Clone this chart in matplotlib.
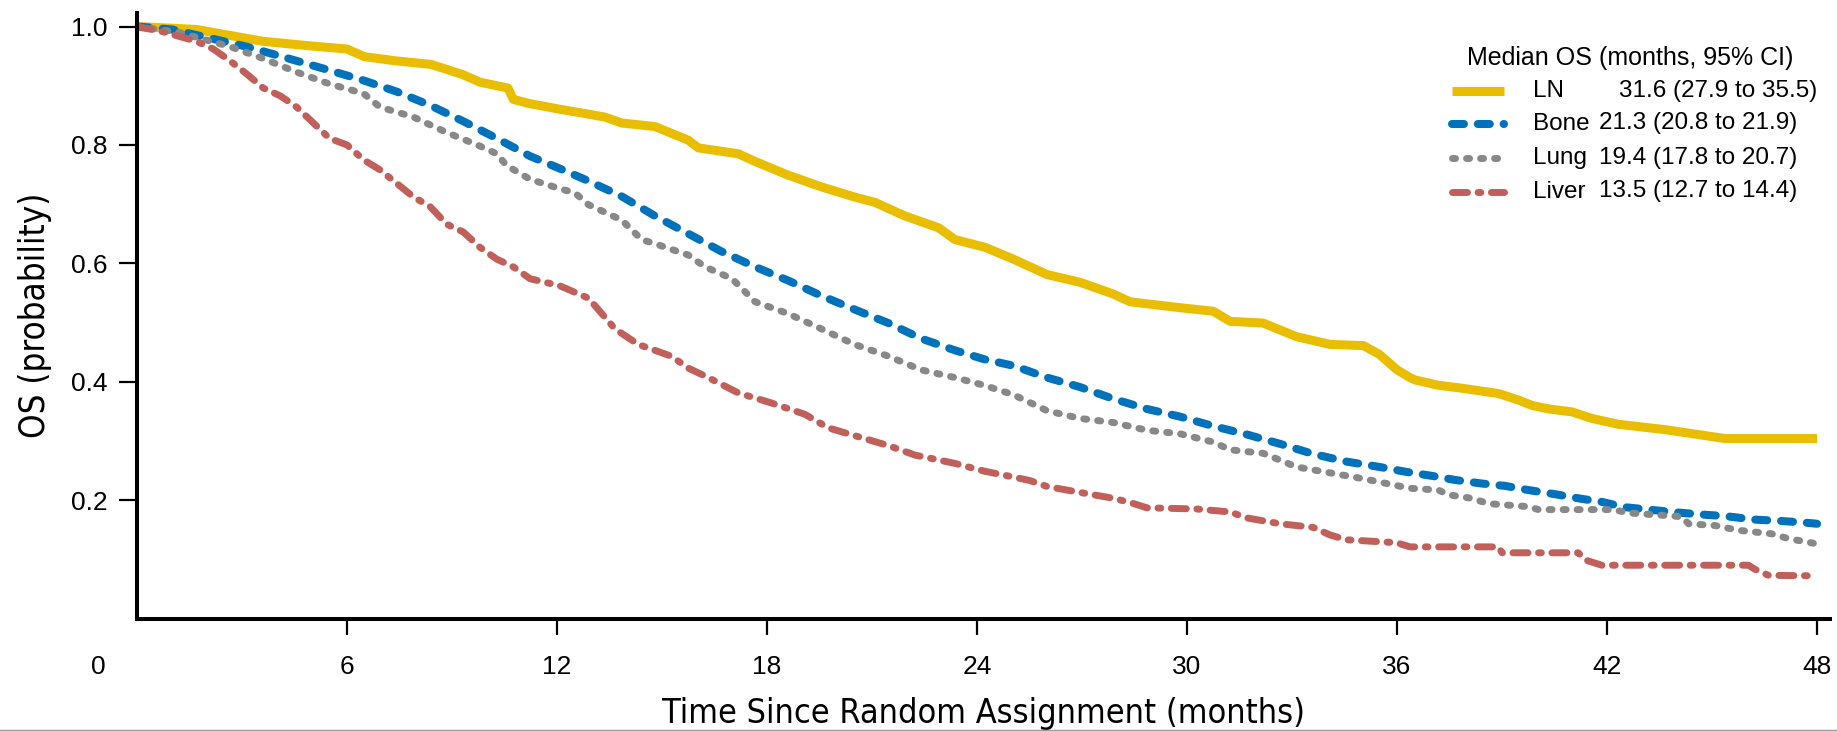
import matplotlib
matplotlib.use("Agg")
import matplotlib.pyplot as plt
from matplotlib.lines import Line2D
from matplotlib import font_manager as fm

# ---- Kaplan-Meier overall survival by metastatic site ----
months_ln = [0, 1.7, 3.6, 5.0, 6.0, 6.5, 7.4, 8.4, 9.3, 9.8, 10.6, 10.75, 11.2, 12.1, 12.7,
             13.37, 13.85, 14.8, 15.75, 16.04, 17.18, 17.66, 18.6, 19.56, 20.5, 21.08, 21.94,
             22.9, 23.37, 24.23, 25.04, 26.0, 26.94, 27.9, 28.37, 29.8, 30.75, 31.23, 32.18,
             33.13, 34.09, 35.04, 35.5, 36.0, 36.37, 36.51, 37.18, 37.85, 38.9, 39.47, 39.85,
             40.33, 41.0, 41.56, 42.33, 43.66, 45.37, 48.0]
os_ln = [1.0, 0.995, 0.975, 0.967, 0.962, 0.949, 0.942, 0.936, 0.919, 0.906, 0.896, 0.877, 0.870,
         0.860, 0.854, 0.847, 0.837, 0.831, 0.808, 0.795, 0.785, 0.772, 0.749, 0.729, 0.712,
         0.703, 0.680, 0.660, 0.640, 0.627, 0.607, 0.581, 0.568, 0.548, 0.535, 0.525, 0.519,
         0.502, 0.499, 0.476, 0.463, 0.461, 0.446, 0.420, 0.407, 0.403, 0.394, 0.389, 0.380,
         0.369, 0.360, 0.354, 0.349, 0.338, 0.328, 0.319, 0.304, 0.304]

months_bone = [0, 1.0, 2.18, 3.13, 4.09, 5.5, 6.47, 7.42, 8.37, 9.32, 10.28, 11.23, 12.08, 12.9,
               13.85, 14.8, 15.75, 16.7, 17.66, 18.6, 19.56, 20.5, 21.47, 22.4, 23.37, 24.2,
               25.04, 26.0, 26.94, 27.9, 28.85, 29.8, 30.75, 31.7, 32.66, 33.6, 34.56, 35.5,
               36.23, 36.99, 37.66, 38.42, 39.09, 39.75, 40.51, 41.18, 41.85, 42.51, 43.85,
               44.61, 45.37, 46.23, 46.9, 47.66, 48.0]
os_bone = [1.0, 0.995, 0.979, 0.966, 0.950, 0.926, 0.909, 0.890, 0.867, 0.840, 0.811, 0.781,
           0.760, 0.739, 0.713, 0.680, 0.650, 0.620, 0.594, 0.571, 0.545, 0.522, 0.499, 0.473,
           0.453, 0.438, 0.427, 0.407, 0.391, 0.371, 0.354, 0.341, 0.325, 0.311, 0.295, 0.278,
           0.265, 0.256, 0.248, 0.241, 0.234, 0.228, 0.224, 0.217, 0.210, 0.203, 0.197, 0.188,
           0.180, 0.176, 0.173, 0.167, 0.165, 0.162, 0.160]

months_lung = [0, 1.2, 2.66, 3.6, 4.56, 5.5, 6.47, 6.94, 7.9, 8.37, 8.85, 9.8, 10.28, 10.56,
               11.23, 12.08, 12.51, 12.9, 13.85, 14.42, 14.8, 15.75, 16.23, 17.0, 17.66, 18.6,
               19.56, 20.5, 21.47, 22.4, 23.37, 24.2, 25.04, 26.0, 26.94, 27.9, 28.85, 29.8,
               30.75, 31.23, 32.18, 33.13, 34.09, 35.04, 36.37, 37.18, 37.47, 38.13, 38.61,
               39.75, 40.04, 42.13, 42.7, 43.66, 44.13, 44.33, 45.09, 45.75, 46.71, 47.18, 48.0]
os_lung = [1.0, 0.99, 0.966, 0.946, 0.923, 0.903, 0.887, 0.864, 0.847, 0.834, 0.821, 0.798,
           0.785, 0.765, 0.742, 0.726, 0.719, 0.699, 0.673, 0.640, 0.633, 0.614, 0.594, 0.574,
           0.535, 0.515, 0.489, 0.463, 0.443, 0.420, 0.407, 0.394, 0.378, 0.351, 0.338, 0.331,
           0.318, 0.312, 0.298, 0.285, 0.279, 0.256, 0.246, 0.236, 0.220, 0.217, 0.209, 0.203,
           0.194, 0.189, 0.184, 0.184, 0.178, 0.174, 0.172, 0.160, 0.157, 0.149, 0.143, 0.135,
           0.126]

months_liver = [0, 0.75, 1.7, 2.18, 2.66, 3.13, 3.61, 4.09, 4.56, 5.04, 5.5, 6.0, 6.47, 6.94,
                7.42, 7.9, 8.37, 8.85, 9.32, 9.8, 10.28, 10.75, 11.23, 12.08, 12.9, 13.66,
                14.32, 15.27, 15.75, 16.32, 17.18, 18.13, 19.08, 19.75, 20.5, 21.47, 22.23,
                23.37, 24.2, 25.04, 25.51, 26.0, 26.94, 27.9, 28.37, 28.85, 30.27, 31.23, 31.7,
                32.66, 33.6, 34.09, 34.56, 35.99, 36.37, 38.9, 39.0, 41.18, 41.37, 41.85, 46.04,
                46.23, 46.61, 48.0]
os_liver = [1.0, 0.991, 0.975, 0.962, 0.942, 0.920, 0.896, 0.883, 0.864, 0.837, 0.811, 0.800,
            0.775, 0.758, 0.735, 0.712, 0.696, 0.666, 0.653, 0.627, 0.607, 0.594, 0.574, 0.562,
            0.541, 0.489, 0.463, 0.443, 0.423, 0.407, 0.381, 0.364, 0.345, 0.322, 0.309, 0.292,
            0.276, 0.262, 0.249, 0.239, 0.233, 0.223, 0.213, 0.203, 0.196, 0.187, 0.185, 0.180,
            0.170, 0.160, 0.154, 0.141, 0.133, 0.128, 0.121, 0.121, 0.111, 0.111, 0.099, 0.090,
            0.090, 0.083, 0.073, 0.072]

site_names = ["LN", "Bone", "Lung", "Liver"]
median_text = ["31.6 (27.9 to 35.5)", "21.3 (20.8 to 21.9)",
               "19.4 (17.8 to 20.7)", "13.5 (12.7 to 14.4)"]
x_ticks = [6, 12, 18, 24, 30, 36, 42, 48]
y_ticks = [0.2, 0.4, 0.6, 0.8, 1.0]

series = [(months_ln, os_ln), (months_bone, os_bone),
          (months_lung, os_lung), (months_liver, os_liver)]

plt.rcParams["lines.scale_dashes"] = False
plt.rcParams["font.family"] = ["Liberation Sans", "DejaVu Sans"]

# axis titles use a condensed face when one is installed
installed = fm.fontManager.ttflist
if any(f.name == "Liberation Sans Narrow" for f in installed):
    title_font = dict(family=["Liberation Sans Narrow"], stretch="normal")
    xlab_size, ylab_size = 27, 27
elif any(f.name == "DejaVu Sans" and f.stretch == "condensed" for f in installed):
    title_font = dict(family=["DejaVu Sans"], stretch="condensed")
    xlab_size, ylab_size = 24.5, 25
else:
    title_font = dict(family=["Liberation Sans"], stretch="normal")
    xlab_size, ylab_size = 24, 24

styles = [
    dict(color="#E9BD00", lw=6.5, linestyle="-", solid_capstyle="butt"),
    dict(color="#0072BC", lw=5.8, dashes=(8.6, 10.0), dash_capstyle="round"),
    dict(color="#888888", lw=5.0, dashes=(2.2, 7.9), dash_capstyle="round"),
    dict(color="#C1605A", lw=5.0, dashes=(10.8, 7.6, 2.0, 7.6), dash_capstyle="round"),
]

W, H = 1837, 731
fig = plt.figure(figsize=(W / 100, H / 100), dpi=100)
ax = fig.add_axes([137 / W, (H - 618.5) / H, 1693 / W, 605.6 / H])

for (t, s), st in zip(series, styles):
    ax.plot(t, s, **st)

ax.set_xlim(0, 48.37)
ax.set_ylim(0, 1.023)
for side in ("top", "right"):
    ax.spines[side].set_visible(False)
for side in ("left", "bottom"):
    ax.spines[side].set_linewidth(2.9)

ax.set_xticks(x_ticks)
ax.set_xticklabels([str(v) for v in x_ticks])
ax.set_yticks(y_ticks)
ax.set_yticklabels([f"{v:.1f}" for v in y_ticks])
ax.tick_params(axis="x", direction="out", length=11.5, width=1.6, pad=15, labelsize=19)
ax.tick_params(axis="y", direction="out", length=13, width=1.6, pad=8, labelsize=19)

# shared origin label
ax.annotate("0", xy=(0, 0), xycoords="axes fraction", xytext=(-28, -(11.5 + 15)),
            textcoords="offset points", ha="center", va="top", fontsize=19)

ax.set_xlabel("Time Since Random Assignment (months)", fontsize=xlab_size,
              fontfamily=title_font["family"], fontstretch=title_font["stretch"])
ax.xaxis.label.set_va("baseline")
ax.xaxis.set_label_coords(0.5, -(723 - 618.5) / 605.6)
ax.set_ylabel("OS (probability)", fontsize=ylab_size,
              fontfamily=title_font["family"], fontstretch=title_font["stretch"])
ax.yaxis.set_label_coords(-0.050, 0.5)

# legend block
def fx(px):
    return px / W

def fy(py):
    return 1 - py / H

fig.text(fx(1467), fy(58), "Median OS (months, 95% CI)", fontsize=18, ha="left", va="center")
row_y = [91, 123.5, 158, 191.5]
value_x = [1619, 1599, 1599, 1599]
for name, val, ry, vx, st in zip(site_names, median_text, row_y, value_x, styles):
    fig.add_artist(Line2D([fx(1452), fx(1504)], [fy(ry), fy(ry)],
                          transform=fig.transFigure, **st))
    fig.text(fx(1533), fy(ry), name, fontsize=17.5, ha="left", va="center")
    fig.text(fx(vx), fy(ry), val, fontsize=17.5, ha="left", va="center")

# thin rule along the lower edge
fig.add_artist(Line2D([0, 1], [0.0018, 0.0018], transform=fig.transFigure,
                      color="#9a9a9a", lw=1.0))

fig.savefig("out.png", dpi=100)
